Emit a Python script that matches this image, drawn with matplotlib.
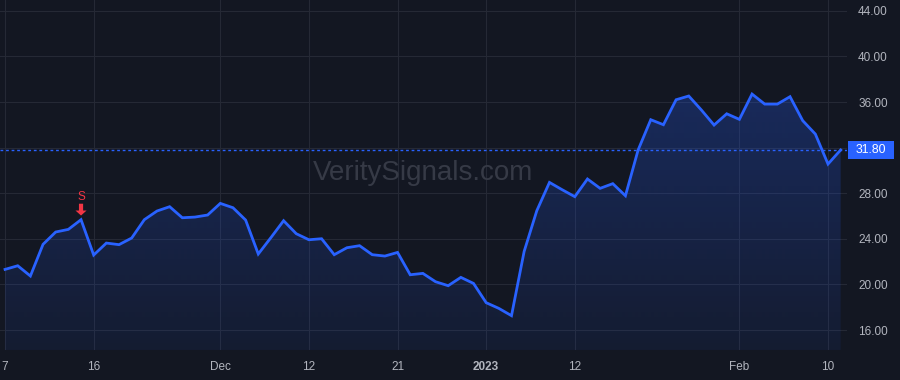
import numpy as np
import matplotlib.pyplot as plt
from matplotlib.colors import LinearSegmentedColormap
from matplotlib.patches import Polygon, Rectangle

# trading days shown on the chart (Nov 7 2022 .. Feb 13 2023)
dates = [
    "2022-11-07", "2022-11-08", "2022-11-09", "2022-11-10", "2022-11-11", "2022-11-14",
    "2022-11-15", "2022-11-16", "2022-11-17", "2022-11-18", "2022-11-21", "2022-11-22",
    "2022-11-23", "2022-11-25", "2022-11-28", "2022-11-29", "2022-11-30", "2022-12-01",
    "2022-12-02", "2022-12-05", "2022-12-06", "2022-12-07", "2022-12-08", "2022-12-09",
    "2022-12-12", "2022-12-13", "2022-12-14", "2022-12-15", "2022-12-16", "2022-12-19",
    "2022-12-20", "2022-12-21", "2022-12-22", "2022-12-23", "2022-12-27", "2022-12-28",
    "2022-12-29", "2022-12-30", "2023-01-03", "2023-01-04", "2023-01-05", "2023-01-06",
    "2023-01-09", "2023-01-10", "2023-01-11", "2023-01-12", "2023-01-13", "2023-01-17",
    "2023-01-18", "2023-01-19", "2023-01-20", "2023-01-23", "2023-01-24", "2023-01-25",
    "2023-01-26", "2023-01-27", "2023-01-30", "2023-01-31", "2023-02-01", "2023-02-02",
    "2023-02-03", "2023-02-06", "2023-02-07", "2023-02-08", "2023-02-09", "2023-02-10",
    "2023-02-13",
]
close = [
    21.32, 21.64, 20.74, 23.52, 24.60, 24.83, 25.68, 22.58, 23.63, 23.49, 24.07, 25.68,
    26.44, 26.82, 25.85, 25.91, 26.09, 27.11, 26.73, 25.65, 22.67, 24.11, 25.59, 24.45,
    23.92, 24.01, 22.61, 23.22, 23.40, 22.61, 22.49, 22.81, 20.85, 20.97, 20.24, 19.89,
    20.62, 20.09, 18.40, 17.90, 17.26, 22.90, 26.47, 28.95, 28.31, 27.70, 29.25, 28.43,
    28.84, 27.78, 31.79, 34.45, 34.01, 36.20, 36.53, 35.30, 33.98, 34.97, 34.48, 36.70,
    35.82, 35.82, 36.47, 34.37, 33.19, 30.56, 31.80,
]
tick_dates = ["2022-11-07", "2022-11-16", "2022-12-01", "2022-12-12", "2022-12-21",
              "2023-01-03", "2023-01-12", "2023-02-01", "2023-02-10"]
tick_labels = ["7", "16", "Dec", "12", "21", "2023", "12", "Feb", "10"]
y_ticks = [16, 20, 24, 28, 36, 40, 44]
y_grid = [16, 20, 24, 28, 32, 36, 40, 44]
signal_date = "2022-11-15"
signal_text = "S"

BG = "#131722"
GRID = "#252935"
LINE = "#2962ff"
TXT = "#b2b5be"
RED = "#f23645"
FONT = "Liberation Sans"

x = np.arange(len(close))
y = np.array(close)

fig = plt.figure(figsize=(9, 3.8), dpi=100, facecolor=BG)
ax = fig.add_axes([0, 30 / 380, 847 / 900, 350 / 380], facecolor=BG)
ylo, yhi = 14.25, 44.95
ax.set_xlim(-0.4, 66.5)
ax.set_ylim(ylo, yhi)

for v in y_grid:
    ax.axhline(v, color=GRID, lw=0.8, zorder=0)
tick_idx = [dates.index(d) for d in tick_dates]
for i in tick_idx:
    ax.axvline(i, color=GRID, lw=0.8, zorder=0)

# gradient area under the line
cmap = LinearSegmentedColormap.from_list(
    "g", [(41 / 255, 98 / 255, 1, 0.07), (41 / 255, 98 / 255, 1, 0.26)])
grad = np.linspace(0, 1, 256).reshape(-1, 1)
im = ax.imshow(grad, cmap=cmap, origin="lower", aspect="auto",
               extent=[x[0], x[-1], ylo, y.max()], zorder=1)
poly = Polygon(np.column_stack([np.r_[x[0], x, x[-1]], np.r_[ylo, y, ylo]]),
               closed=True, facecolor="none", edgecolor="none")
ax.add_patch(poly)
im.set_clip_path(poly)

ax.plot(x, y, color=LINE, lw=2, zorder=3, solid_joinstyle="miter")

# last price line + label box on the price scale
last = close[-1]
ax.axhline(last, color=LINE, lw=1, ls=(0, (2, 2)), zorder=2)
ytr = ax.get_yaxis_transform()
box_w = 46 / 847
box_h = 18 / (350 / (yhi - ylo))
ax.add_patch(Rectangle((1.0006, last - box_h / 2), box_w, box_h, transform=ytr,
                       facecolor=LINE, edgecolor="none", clip_on=False, zorder=5))
ax.text(1.0006 + box_w / 2, last, f"{last:.2f}", transform=ytr, ha="center", va="center",
        color="white", fontsize=8.8, family=FONT, clip_on=False, zorder=6)

# signal marker
si = dates.index(signal_date)
ax.annotate("", xy=(si, close[si]), xytext=(0, 11.5), textcoords="offset points",
            arrowprops=dict(arrowstyle="simple,head_width=0.8,head_length=0.36,tail_width=0.3",
                            mutation_scale=10, fc=RED, ec="none", shrinkA=0, shrinkB=3.0),
            zorder=4)
ax.annotate(signal_text, xy=(si, close[si]), xytext=(0, 16.5), textcoords="offset points",
            ha="center", va="center", color=RED, fontsize=8.5, family=FONT)

# watermark
ax.text(0.5, 0.506, "VeritySignals.com", transform=ax.transAxes, ha="center", va="center",
        fontsize=20, color="#363a46", family=FONT, zorder=0.5)

ax.set_xticks(tick_idx)
ax.set_xticklabels(tick_labels)
for lab, t in zip(ax.get_xticklabels(), tick_labels):
    lab.set_fontweight("bold" if t == "2023" else "normal")
ax.yaxis.tick_right()
ax.set_yticks(y_ticks)
ax.set_yticklabels([f"{v:.2f}" for v in y_ticks])
ax.tick_params(axis="both", length=0, colors=TXT, labelsize=8.5)
ax.tick_params(axis="x", pad=8)
ax.tick_params(axis="y", pad=8)
for lab in ax.get_xticklabels() + ax.get_yticklabels():
    lab.set_family(FONT)
for s in ax.spines.values():
    s.set_visible(False)

fig.savefig("out.png", dpi=100, facecolor=BG)
